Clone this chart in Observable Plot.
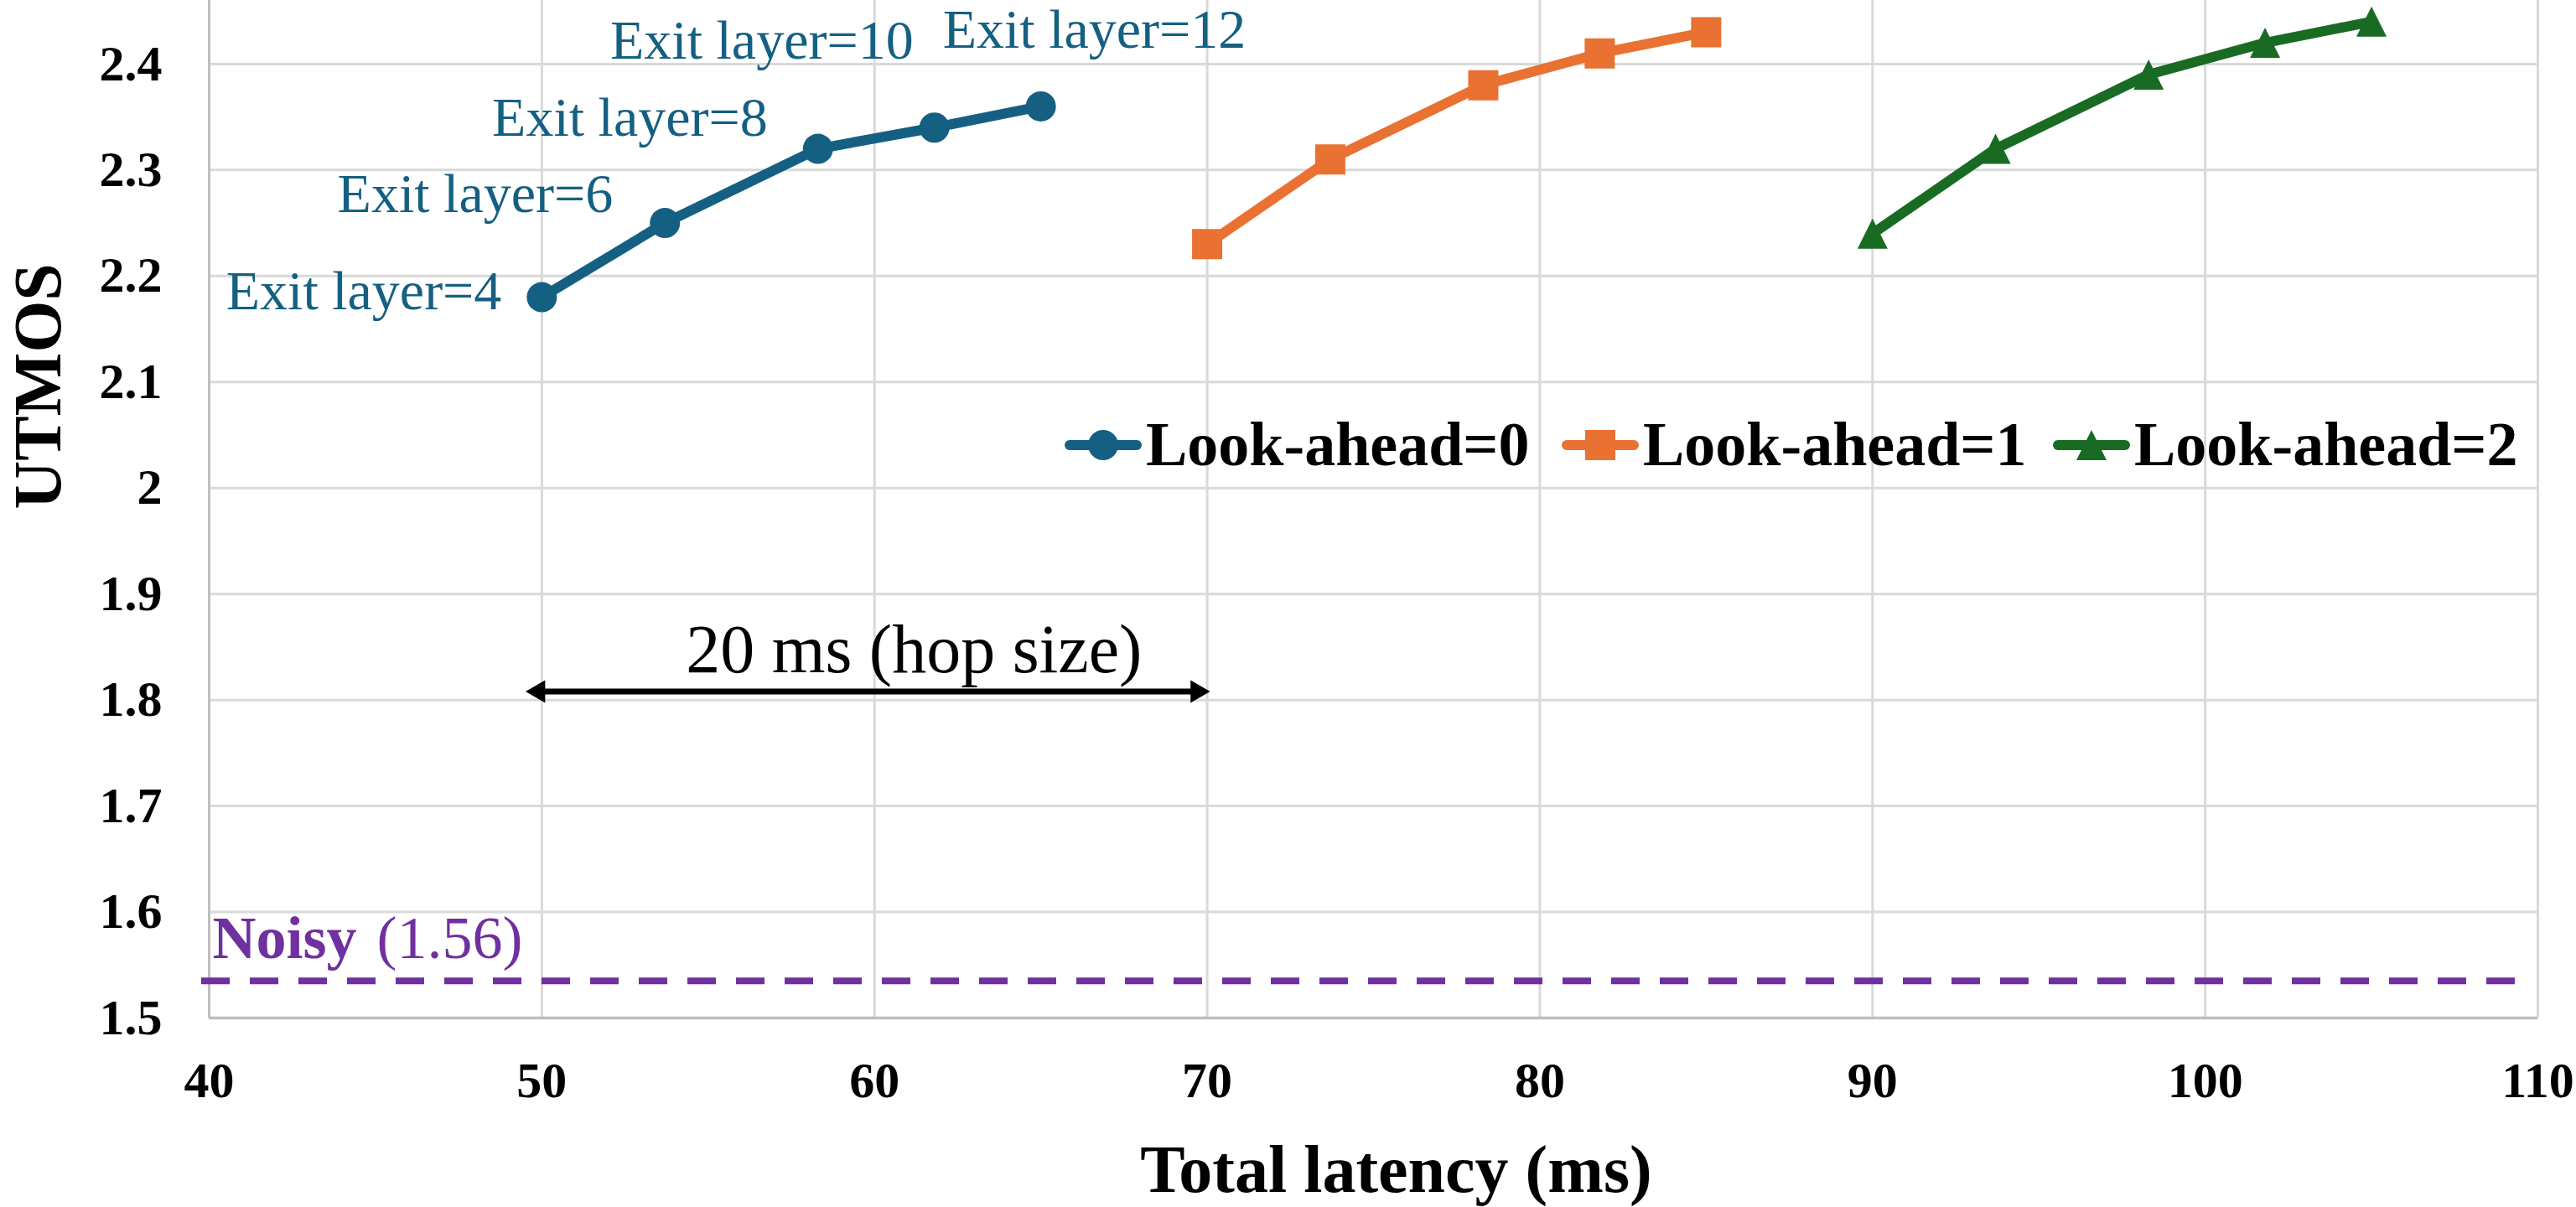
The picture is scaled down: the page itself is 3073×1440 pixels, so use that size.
<!DOCTYPE html>
<html><head><meta charset="utf-8">
<script src="https://cdn.jsdelivr.net/npm/d3@7"></script>
<script src="https://cdn.jsdelivr.net/npm/@observablehq/plot@0.6"></script>
<style>
html,body{margin:0;padding:0;background:#fff;}
#chart{width:3073px;height:1440px;position:relative;}
</style></head><body><div id="chart"></div>
<script>
// ---------- data ----------
const exitLayers = [4, 6, 8, 10, 12];
const seriesNames = ["Look-ahead=0", "Look-ahead=1", "Look-ahead=2"];
const latency0 = [50, 53.7, 58.3, 61.8, 65];
const utmos0   = [2.18, 2.25, 2.32, 2.34, 2.36];
const latency1 = [70, 73.7, 78.3, 81.8, 85];
const utmos1   = [2.23, 2.31, 2.38, 2.41, 2.43];
const latency2 = [90, 93.7, 98.3, 101.8, 105];
const utmos2   = [2.24, 2.32, 2.39, 2.42, 2.44];
const xTicks = [40, 50, 60, 70, 80, 90, 100, 110];
const yTicks = [1.5, 1.6, 1.7, 1.8, 1.9, 2.0, 2.1, 2.2, 2.3, 2.4];
const noisyLevel = 1.535;
const noisyName = "Noisy";
const noisyValueText = "(1.56)";
const hopArrow = {x1: 49.5, x2: 70.1, y: 1.808, label: "20 ms (hop size)"};
const xLabel = "Total latency (ms)";
const yLabel = "UTMOS";

// ---------- styles ----------
const FONT = "'Liberation Serif','Times New Roman',serif";
const colors = ["#156082", "#E97132", "#196B24"];
const purple = "#7030A0";
const gridColor = "#D9D9D9";
const axisColor = "#BFBFBF";
// Excel-like tall triangle: base 2r, height 2r, centred on the point
const tallTriangle = {
  draw(context, size) {
    const r = Math.sqrt(size / Math.PI);
    context.moveTo(0, -r);
    context.lineTo(r, r);
    context.lineTo(-r, r);
    context.closePath();
  }
};
const symbols = [d3.symbolCircle, d3.symbolSquare, tallTriangle];
const radii = [18, 20.3, 18];

const latencies = [latency0, latency1, latency2];
const utmoss = [utmos0, utmos1, utmos2];
const series = seriesNames.map((name, s) =>
  latencies[s].map((x, i) => ({series: name, x, y: utmoss[s][i], layer: exitLayers[i]})));
const rows0 = series[0];

// label placement (layout only)
const exitLabelLayout = [
  {dx: -48, dy: -7, anchor: "end"},
  {dx: -62, dy: -34, anchor: "end"},
  {dx: -60, dy: -37, anchor: "end"},
  {dx: -25, dy: -103, anchor: "end"},
  {dx: -117, dy: -91, anchor: "start"}
];

const marks = [
  Plot.gridX(xTicks, {stroke: gridColor, strokeOpacity: 1, strokeWidth: 3}),
  Plot.gridY(yTicks, {stroke: gridColor, strokeOpacity: 1, strokeWidth: 3}),
  Plot.ruleX([xTicks[0]], {stroke: axisColor, strokeWidth: 3}),
  Plot.ruleY([yTicks[0]], {stroke: axisColor, strokeWidth: 3.5}),
  Plot.axisX(xTicks, {tickSize: 0, tickPadding: 52, fontSize: 60, fontWeight: "bold", label: null, fill: "#000"}),
  Plot.axisY(yTicks, {tickSize: 0, tickPadding: 56, fontSize: 60, fontWeight: "bold", label: null, fill: "#000",
    tickFormat: d => String(+d.toFixed(2))}),
  Plot.ruleY([noisyLevel], {stroke: purple, strokeWidth: 8, strokeDasharray: "34,24", insetLeft: -9, insetRight: 10}),
  Plot.text([noisyLevel], {y: d => d, frameAnchor: "left", text: () => noisyName, fill: purple, fontSize: 72,
    fontWeight: "bold", textAnchor: "start", lineAnchor: "bottom", dx: 4, dy: -27}),
  Plot.text([noisyLevel], {y: d => d, frameAnchor: "left", text: () => noisyValueText, fill: purple, fontSize: 72,
    textAnchor: "start", lineAnchor: "bottom", dx: 200, dy: -27}),
  // hop size annotation
  Plot.ruleY([hopArrow], {y: "y", x1: d => d.x1 + 0.4, x2: d => d.x2 - 0.4, stroke: "#000", strokeWidth: 7}),
  Plot.dot([hopArrow], {x: "x2", y: "y", symbol: "triangle", rotate: 90, r: 10, fill: "#000", dx: -16}),
  Plot.dot([hopArrow], {x: "x1", y: "y", symbol: "triangle", rotate: -90, r: 10, fill: "#000", dx: 16}),
  Plot.text([hopArrow], {x: d => (d.x1 + d.x2) / 2, y: "y", text: "label", fontSize: 82, fill: "#000",
    lineAnchor: "bottom", dx: 55, dy: -23}),
  // series
  ...series.map((rows, s) => Plot.line(rows, {x: "x", y: "y", stroke: colors[s], strokeWidth: 12,
    strokeLinejoin: "round", strokeLinecap: "round"})),
  ...series.map((rows, s) => Plot.dot(rows, {x: "x", y: "y", symbol: symbols[s], r: radii[s], fill: colors[s], stroke: "none"})),
  // exit layer labels
  ...exitLabelLayout.map((L, i) => Plot.text(rows0.filter((d, j) => j === i), {x: "x", y: "y",
    text: d => `Exit layer=${d.layer}`, fill: colors[0], fontSize: 66, textAnchor: L.anchor,
    lineAnchor: "middle", dx: L.dx, dy: L.dy})),
  // axis titles
  Plot.text([xLabel], {text: d => d, frameAnchor: "bottom", lineAnchor: "top", dy: 151, dx: 27,
    fontSize: 80, fontWeight: "bold", fill: "#000"}),
  Plot.text([yLabel], {text: d => d, frameAnchor: "left", rotate: -90, lineAnchor: "middle", dx: -203,
    fontSize: 80, fontWeight: "bold", fill: "#000"})
];

const chart = Plot.plot({
  width: 3073, height: 1440,
  marginLeft: 249, marginRight: 46, marginTop: 0, marginBottom: 226,
  x: {domain: [40, 110]},
  y: {domain: [1.5, 2.46]},
  style: {fontFamily: FONT, background: "#fff", overflow: "visible"},
  marks
});
document.getElementById("chart").appendChild(chart);

// ---------- legend (inside plot area) ----------
const svg = d3.select(chart.tagName.toLowerCase() === "svg" ? chart : chart.querySelector("svg"));
const legendStarts = [1270, 1863, 2449];
const legendY = 531;
const lg = svg.append("g").attr("font-family", FONT).attr("text-anchor", "start");
seriesNames.forEach((name, s) => {
  const x0 = legendStarts[s];
  const g = lg.append("g");
  g.append("line").attr("x1", x0 + 6).attr("x2", x0 + 86).attr("y1", legendY).attr("y2", legendY)
    .attr("stroke", colors[s]).attr("stroke-width", 12).attr("stroke-linecap", "round");
  g.append("path").attr("d", d3.symbol(symbols[s], radii[s] * radii[s] * Math.PI)())
    .attr("transform", `translate(${x0 + 46},${legendY})`).attr("fill", colors[s]);
  g.append("text").attr("x", x0 + 97).attr("y", legendY + 24).attr("font-size", 74)
    .attr("font-weight", "bold").attr("fill", "#000").attr("text-anchor", "start").text(name);
});
</script></body></html>
